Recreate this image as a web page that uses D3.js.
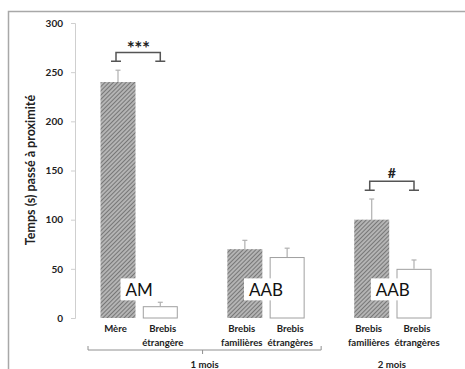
<!DOCTYPE html>
<meta charset="utf-8">
<style>
 body { margin: 0; background: #fff; }
 svg { display: block; }
 text { font-family: Lato, "Noto Sans", sans-serif; }
 .tick text { font-weight: 700; font-size: 10px; fill: #222; }
 .cat, .grp { font-weight: 700; font-size: 9.6px; fill: #222; }
 .ylabel { font-weight: 700; font-size: 12.5px; fill: #222; }
 .tag { font-size: 17px; fill: #111; }
</style>
<svg width="465" height="369"></svg>
<script src="https://d3js.org/d3.v7.min.js"></script>
<script>

 // slots: 8 positions, two of them left empty as gaps between groups
 var slots = ["s0", "s1", "gap1", "s2", "s3", "gap2", "s4", "s5"];
 var barSlots = ["s0", "s1", "s2", "s3", "s4", "s5"];
 var labels = [["Mère"], ["Brebis", "étrangère"], ["Brebis", "familières"],
               ["Brebis", "étrangères"], ["Brebis", "familières"], ["Brebis", "étrangères"]];
 var values = [240, 12, 70, 62, 100, 50];
 var errors = [12, 4, 9, 9, 21, 9];
 var hatched = [true, false, true, false, true, false];
 var yTicks = [0, 50, 100, 150, 200, 250, 300];

 var tags = [{ pair: [0, 1], text: "AM" }, { pair: [2, 3], text: "AAB" }, { pair: [4, 5], text: "AAB" }];
 var sig = [{ pair: [0, 1], text: "***", y: 270 }, { pair: [4, 5], text: "#", y: 139 }];
 var groups = [{ bars: [0, 3], text: "1 mois", brace: true }, { bars: [4, 5], text: "2 mois", brace: false }];

 var svg = d3.select("svg");

 var x = d3.scalePoint().domain(slots).range([118, 414]);
 var y = d3.scaleLinear().domain([0, 300]).range([318, 23]);
 var bw = 35;

 // hatch pattern
 var defs = svg.append("defs");
 var pat = defs.append("pattern")
               .attr("id", "hatch")
               .attr("patternUnits", "userSpaceOnUse")
               .attr("width", 3).attr("height", 3)
               .attr("patternTransform", "rotate(45)");
 pat.append("rect").attr("width", 3).attr("height", 3).attr("fill", "#b4b4b4");
 pat.append("line").attr("x1", 0).attr("y1", 0).attr("x2", 0).attr("y2", 3)
    .attr("stroke", "#444").attr("stroke-width", 1.1);

 // frame
 svg.append("path")
    .attr("d", "M8.5,369V11.5H465")
    .attr("fill", "none").attr("stroke", "#a8a8a8").attr("stroke-width", 1.5);

 // y axis
 var yAxis = svg.append("g")
                .attr("transform", "translate(75,0)")
                .call(d3.axisLeft(y).tickValues(yTicks).tickSize(4).tickPadding(8));
 yAxis.selectAll("path, line").attr("stroke", "#cfcfcf");
 yAxis.selectAll("text").attr("font-family", null).attr("font-size", null);

 svg.append("text")
    .attr("class", "ylabel")
    .attr("transform", "translate(35,170) rotate(-90)")
    .attr("text-anchor", "middle")
    .text("Temps (s) passé à proximité");

 var data = barSlots.map(function(s, i) {
   return { slot: s, value: values[i], err: errors[i], hatched: hatched[i], label: labels[i] };
 });

 // error bars
 var eb = svg.append("g").attr("stroke", "#b0b0b0").attr("stroke-width", 1.2);
 data.forEach(function(d) {
   var cx = x(d.slot);
   eb.append("line").attr("x1", cx).attr("x2", cx).attr("y1", y(d.value)).attr("y2", y(d.value + d.err));
   eb.append("line").attr("x1", cx - 2.5).attr("x2", cx + 2.5).attr("y1", y(d.value + d.err)).attr("y2", y(d.value + d.err));
 });

 // bars
 svg.append("g").selectAll("rect")
    .data(data)
    .enter().append("rect")
    .attr("x", function(d) { return x(d.slot) - bw / 2 + (d.hatched ? 0 : 0.5); })
    .attr("y", function(d) { return y(d.value) + (d.hatched ? 0 : 0.5); })
    .attr("width", function(d) { return d.hatched ? bw : bw - 1; })
    .attr("height", function(d) { return y(0) - y(d.value) - (d.hatched ? 0 : 0.5); })
    .attr("fill", function(d) { return d.hatched ? "url(#hatch)" : "#fff"; })
    .attr("stroke", function(d) { return d.hatched ? "none" : "#a0a0a0"; })
    .attr("stroke-width", 1);

 // AM / AAB tags on white boxes
 var tg = svg.append("g");
 tags.forEach(function(t) {
   var cx = (x(barSlots[t.pair[0]]) + x(barSlots[t.pair[1]])) / 2;
   var txt = tg.append("text").attr("class", "tag")
               .attr("x", cx).attr("y", y(22)).attr("text-anchor", "middle").text(t.text);
   var b = txt.node().getBBox();
   tg.insert("rect", "text")
     .attr("x", b.x - 5).attr("y", y(22) - 18).attr("width", b.width + 9).attr("height", 22)
     .attr("fill", "#fff");
 });

 // significance brackets
 var sg = svg.append("g");
 sig.forEach(function(s) {
   var x1 = x(barSlots[s.pair[0]]) - 2, x2 = x(barSlots[s.pair[1]]);
   var yt = y(s.y), yb = y(s.y - 9);
   sg.append("path")
     .attr("d", "M" + x1 + "," + yb + "V" + yt + "H" + x2 + "V" + yb +
                "M" + (x1 - 5) + "," + yb + "H" + (x1 + 5) +
                "M" + (x2 - 5) + "," + yb + "H" + (x2 + 5))
     .attr("fill", "none").attr("stroke", "#555").attr("stroke-width", 1.5);
   sg.append("text")
     .attr("x", (x1 + x2) / 2).attr("y", s.text === "#" ? yt - 3 : yt + 2)
     .attr("text-anchor", "middle")
     .attr("font-family", "DejaVu Sans")
     .attr("font-weight", "bold").attr("font-size", s.text === "#" ? 14 : 19)
     .attr("letter-spacing", s.text === "#" ? 0 : -0.5)
     .attr("fill", "#222")
     .text(s.text);
 });

 // category labels, each pair pushed apart when the labels would touch
 var cl = svg.append("g");
 var catText = data.map(function(d) {
   var t = cl.append("text").attr("class", "cat").attr("text-anchor", "middle");
   d.label.forEach(function(line, k) {
     t.append("tspan").attr("x", x(d.slot)).attr("y", 332 + k * 14).text(line);
   });
   return t;
 });
 for (var i = 0; i < data.length; i += 2) {
   var wl = catText[i].node().getBBox().width, wr = catText[i + 1].node().getBBox().width;
   var gap = x(data[i + 1].slot) - x(data[i].slot);
   var k = Math.max(2.5, (wl / 2 + wr / 2 + 5 - gap) / 2);
   catText[i].selectAll("tspan").attr("x", x(data[i].slot) - k);
   catText[i + 1].selectAll("tspan").attr("x", x(data[i + 1].slot) + k);
 }

 // group braces and labels
 var gg = svg.append("g");
 groups.forEach(function(g) {
   var a = x(barSlots[g.bars[0]]), b = x(barSlots[g.bars[1]]);
   var cx = (a + b) / 2;
   if (g.brace) {
     var l = a - 30, r = b + 34;
     gg.append("path")
       .attr("d", "M" + l + ",346V350H" + r + "V346M" + cx + ",350V354")
       .attr("fill", "none").attr("stroke", "#909090").attr("stroke-width", 1);
   }
   gg.append("text").attr("class", "grp")
     .attr("x", cx + (g.brace ? 2 : -1)).attr("y", 368)
     .attr("text-anchor", "middle").text(g.text);
 });
</script>
